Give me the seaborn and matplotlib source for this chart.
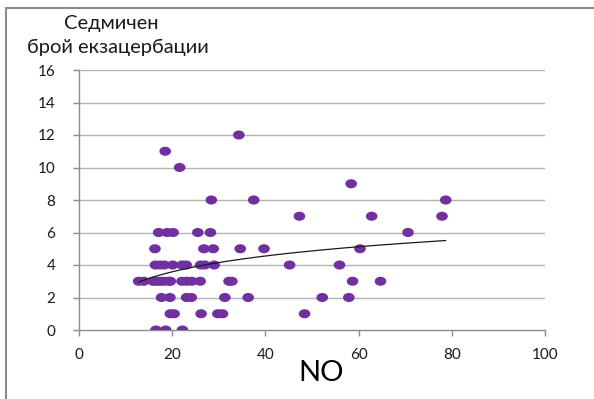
import numpy as np
import pandas as pd
import matplotlib
matplotlib.use("Agg")
import matplotlib.pyplot as plt
import seaborn as sns
from matplotlib.lines import Line2D

# ---- data ----
no_values = [34.3, 18.5, 21.6, 58.4,
             28.4, 37.5, 78.7,
             47.3, 62.8, 77.9,
             17.1, 18.9, 20.2, 25.5, 28.2, 70.6,
             16.3, 26.8, 28.8, 34.6, 39.7, 60.3,
             16.4, 17.4, 18.3, 20.1, 22.1, 23.0, 26.1, 27.0, 29.0, 45.2, 55.9,
             12.8, 13.9, 15.9, 16.6, 17.3, 18.1, 19.2, 19.6, 22.1, 23.1, 24.2, 26.0, 32.2, 32.8, 58.7, 64.7,
             17.7, 19.5, 23.1, 24.1, 31.3, 36.3, 52.2, 57.9,
             19.6, 20.4, 26.2, 29.8, 30.8, 48.4,
             16.5, 18.6, 22.2]
exacerbations = [12, 11, 10, 9,
                 8, 8, 8,
                 7, 7, 7,
                 6, 6, 6, 6, 6, 6,
                 5, 5, 5, 5, 5, 5,
                 4, 4, 4, 4, 4, 4, 4, 4, 4, 4, 4,
                 3, 3, 3, 3, 3, 3, 3, 3, 3, 3, 3, 3, 3, 3, 3, 3,
                 2, 2, 2, 2, 2, 2, 2, 2,
                 1, 1, 1, 1, 1, 1,
                 0, 0, 0]
x_ticks = [0, 20, 40, 60, 80, 100]
y_ticks = [0, 2, 4, 6, 8, 10, 12, 14, 16]
y_title = ["Седмичен", "брой екзацербации"]
x_title = "NO"

df = pd.DataFrame({"NO": no_values, "y": exacerbations})

sns.set_style("white")
plt.rcParams["font.family"] = ["Lato", "DejaVu Sans"]

fig = plt.figure(figsize=(5.94, 3.99), dpi=100)
ax = fig.add_axes([79 / 594, 1 - 330 / 399, (545 - 79) / 594, (330 - 70) / 399])

# elliptical marker (reference dots are wider than tall)
t = np.linspace(0, 2 * np.pi, 40)
ell = np.column_stack([np.cos(t) * 1.0, np.sin(t) * 0.78])

for yv in y_ticks[1:]:
    ax.axhline(yv, color="#b3b3b3", lw=1.0, zorder=0)

sns.scatterplot(data=df, x="NO", y="y", ax=ax, marker=ell, s=70,
                color="#7030A0", edgecolor="none", linewidth=0, zorder=3,
                legend=False)

# logarithmic trendline fitted to the data
b, a = np.polyfit(np.log(df["NO"]), df["y"], 1)
xs = np.linspace(min(no_values), max(no_values), 200)
ax.plot(xs, a + b * np.log(xs), color="#1a1a1a", lw=0.9, zorder=4)

ax.set_xlim(0, 100)
ax.set_ylim(0, 16)
ax.set_xticks(x_ticks)
ax.set_yticks(y_ticks)
ax.set_xlabel("")
ax.set_ylabel("")
for s in ["top", "right"]:
    ax.spines[s].set_visible(False)
for s in ["left", "bottom"]:
    ax.spines[s].set_color("#8c8c8c")
    ax.spines[s].set_linewidth(1.0)
ax.tick_params(axis="both", bottom=True, left=True, direction="out",
               length=4, width=1, color="#8c8c8c", labelsize=11,
               labelcolor="#1a1a1a")
ax.tick_params(axis="y", pad=13)
ax.tick_params(axis="x", pad=9)

fig.text(111 / 594, 1 - 24 / 399, y_title[0], ha="center", va="center",
         fontsize=14.5, color="#1a1a1a")
fig.text(118 / 594, 1 - 47 / 399, y_title[1], ha="center", va="center",
         fontsize=14.5, color="#1a1a1a")
fig.text(321 / 594, 1 - 373 / 399, x_title, ha="center", va="center",
         fontsize=21, color="#000000")

# partial frame around the chart area
fig.add_artist(Line2D([6 / 594, 6 / 594], [0, 1 - 8 / 399],
                      transform=fig.transFigure, color="#8c8c8c", lw=1.5))
fig.add_artist(Line2D([6 / 594, 1], [1 - 8 / 399, 1 - 8 / 399],
                      transform=fig.transFigure, color="#8c8c8c", lw=1.5))

fig.savefig("out.png", dpi=100, facecolor="white")
